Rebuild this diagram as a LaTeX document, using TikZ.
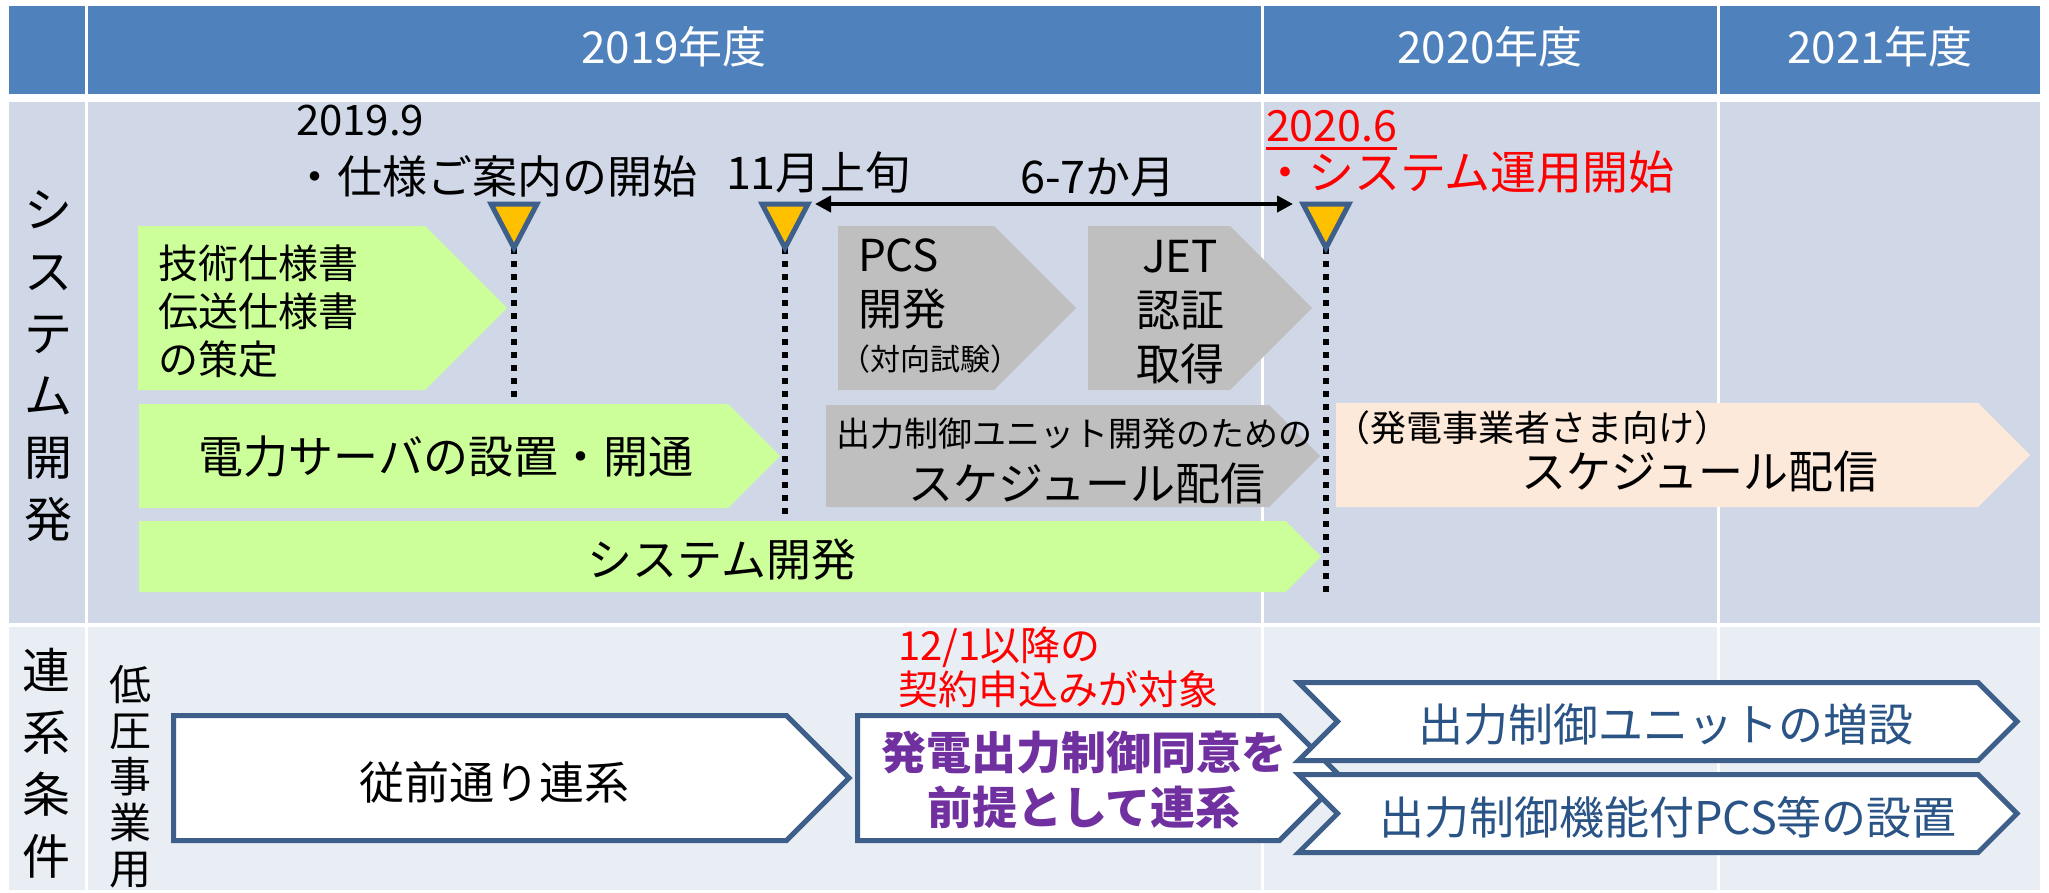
\documentclass[tikz,border=0pt]{standalone}
\usepackage{fontspec}
\setmainfont{Noto Sans CJK JP}
\usetikzlibrary{arrows.meta}
\definecolor{hdr}{HTML}{4F81BD}
\definecolor{rowa}{HTML}{D0D8E8}
\definecolor{rowb}{HTML}{E9EDF4}
\definecolor{lgreen}{HTML}{CCFF99}
\definecolor{gry}{HTML}{BFBFBF}
\definecolor{peach}{HTML}{FCE9DA}
\definecolor{tfill}{HTML}{FFC000}
\definecolor{bord}{HTML}{3E5F8A}
\definecolor{btxt}{HTML}{2A5485}
\definecolor{purp}{HTML}{7030A0}
\definecolor{rd}{HTML}{FF0000}
\newcommand{\fsz}[2]{\fontsize{#1}{#2}\selectfont}
\newcommand{\hp}[5]{\path[#5] (#1,#2) -- ({#3-(#4-#2)/2},#2) -- (#3,{(#2+#4)/2}) -- ({#3-(#4-#2)/2},#4) -- (#1,#4) -- cycle;}
\newcommand{\chev}[5]{\path[#5] (#1,#2) -- ({#3-(#4-#2)/2},#2) -- (#3,{(#2+#4)/2}) -- ({#3-(#4-#2)/2},#4) -- (#1,#4) -- ({#1+(#4-#2)/2},{(#2+#4)/2}) -- cycle;}
\tikzset{
  txt/.style={inner sep=0pt, outer sep=0pt, font={\fsz{45}{54}}},
  hdrtxt/.style={txt, text=white, font={\fsz{44}{50}}},
  vtxt/.style={txt, align=center, font={\fsz{48}{62}}},
  vtxtb/.style={txt, align=center, font={\fsz{42}{46}}},
  msnode/.style={inner sep=0pt, outer sep=0pt, minimum width=46pt, minimum height=44pt},
  trist/.style={draw=bord, fill=tfill, line width=5pt},
  dotline/.style={draw=black, line width=6pt, dash pattern=on 6pt off 7pt},
  dblarrow/.style={draw=black, line width=4.5pt, {Triangle[length=16pt,width=16pt]}-{Triangle[length=16pt,width=16pt]}},
  wbox/.style={fill=white, draw=bord, line width=5pt},
}
\begin{document}
\begin{tikzpicture}[x=1pt,y=-1pt]
\useasboundingbox (0,0) rectangle (2049,892);
\fill[white] (0,0) rectangle (2049,892);
% backgrounds
\fill[hdr] (9,6) rectangle (2040,94);
\fill[rowa] (9,102) rectangle (2040,623);
\fill[rowb] (9,627) rectangle (2040,890);
\draw[white, line width=3pt] (86.5,6) -- (86.5,890);
\draw[white, line width=3pt] (1262.5,6) -- (1262.5,890);
\draw[white, line width=3pt] (1718.5,6) -- (1718.5,890);
% header
\node[hdrtxt] (h19) at (674,47) {2019年度};
\node[hdrtxt] (h20) at (1490,47) {2020年度};
\node[hdrtxt] (h21) at (1880,47) {2021年度};
% left column
\node[vtxt] (lsys) at (48,366) {シ\\ス\\テ\\ム\\開\\発};
\node[vtxt] (lren) at (47,763) {連\\系\\条\\件};
\node[vtxtb] (lteiatsu) at (130,777) {低\\圧\\事\\業\\用};
% bars row 2
\hp{138}{226}{507}{390}{fill=lgreen}
\hp{838}{226}{1076}{390}{fill=gry}
\hp{1088}{226}{1312}{390}{fill=gry}
\hp{139}{404}{780}{508}{fill=lgreen}
\hp{826}{405}{1320}{507}{fill=gry}
\hp{1336}{403}{2030}{507}{fill=peach}
\hp{139}{521}{1321}{592}{fill=lgreen}
% bar texts
\node[txt, anchor=west, align=left, font={\fsz{40}{48}}] (spec) at (158,311) {技術仕様書\\伝送仕様書\\の策定};
\node[txt, anchor=west, align=left, font={\fsz{44}{54}}] (pcs) at (858,284) {PCS\\開発};
\node[txt, anchor=west, font={\fsz{30}{34}}] (pcst) at (840,359) {（対向試験）};
\node[txt, align=center, font={\fsz{44}{54}}] (jet) at (1180,312) {JET\\認証\\取得};
\node[txt, anchor=west, font={\fsz{34}{40}}] (sch1) at (836,434) {出力制御ユニット開発のための};
\node[txt] (sch2) at (1087,483) {スケジュール配信};
\node[txt, anchor=west, font={\fsz{36}{40}}] (pea1) at (1334,428) {（発電事業者さま向け）};
\node[txt] (pea2) at (1700,471) {スケジュール配信};
\node[txt] (srv) at (446,457) {電力サーバの設置・開通};
\node[txt] (sysd) at (722,560) {システム開発};
% milestones
\node[msnode] (m1) at (514,226) {};
\node[msnode] (m2) at (785,226) {};
\node[msnode] (m3) at (1326,226) {};
\coordinate (d1) at (514,398);
\coordinate (d2) at (785,520);
\coordinate (d3) at (1326,592);
\draw[dotline] (m1.south) -- (d1);
\draw[dotline] (m2.south) -- (d2);
\draw[dotline] (m3.south) -- (d3);
\draw[trist] (m1.north west) -- (m1.north east) -- (m1.south) -- cycle;
\draw[trist] (m2.north west) -- (m2.north east) -- (m2.south) -- cycle;
\draw[trist] (m3.north west) -- (m3.north east) -- (m3.south) -- cycle;
\draw[dblarrow, shorten <=7pt, shorten >=10pt] (m2.north east) -- (m3.north west);
\node[txt, anchor=west, font={\fsz{42}{48}}] (t19a) at (296,121) {2019.9};
\node[txt, anchor=west] (t19b) at (292,176) {・仕様ご案内の開始};
\node[txt, anchor=west] (t11) at (726,172) {11月上旬};
\node[txt] (t67) at (1098,178) {6-7か月};
\node[txt, anchor=west, text=rd, font={\fsz{43}{48}}] (t20a) at (1266,126) {2020.6};
\draw[rd, line width=2.5pt] ([yshift=-7pt]t20a.base west) -- ([yshift=-7pt]t20a.base east);
\node[txt, anchor=west, text=rd, font={\fsz{46}{54}}] (t20b) at (1262,172) {・システム運用開始};
% row 3
\node[txt, anchor=west, align=left, text=rd, font={\fsz{40}{44}}] (red) at (898,667) {12/1以降の\\契約申込みが対象};
\hp{173.5}{715.5}{849}{840.5}{wbox}
\hp{857.5}{715.5}{1342}{840.5}{wbox}
\chev{1298.5}{682.5}{2017}{760.5}{wbox}
\chev{1298.5}{774.5}{2017}{852.5}{wbox}
\node[txt] (jz) at (494,782) {従前通り連系};
\node[txt, align=center, text=purp, font={\fsz{45}{55}\bfseries}] (agree) at (1084,780) {発電出力制御同意を\\前提として連系};
\node[txt, text=btxt] (unit) at (1666,724) {出力制御ユニットの増設};
\node[txt, text=btxt] (pcsset) at (1668,817) {出力制御機能付PCS等の設置};
\end{tikzpicture}
\end{document}
